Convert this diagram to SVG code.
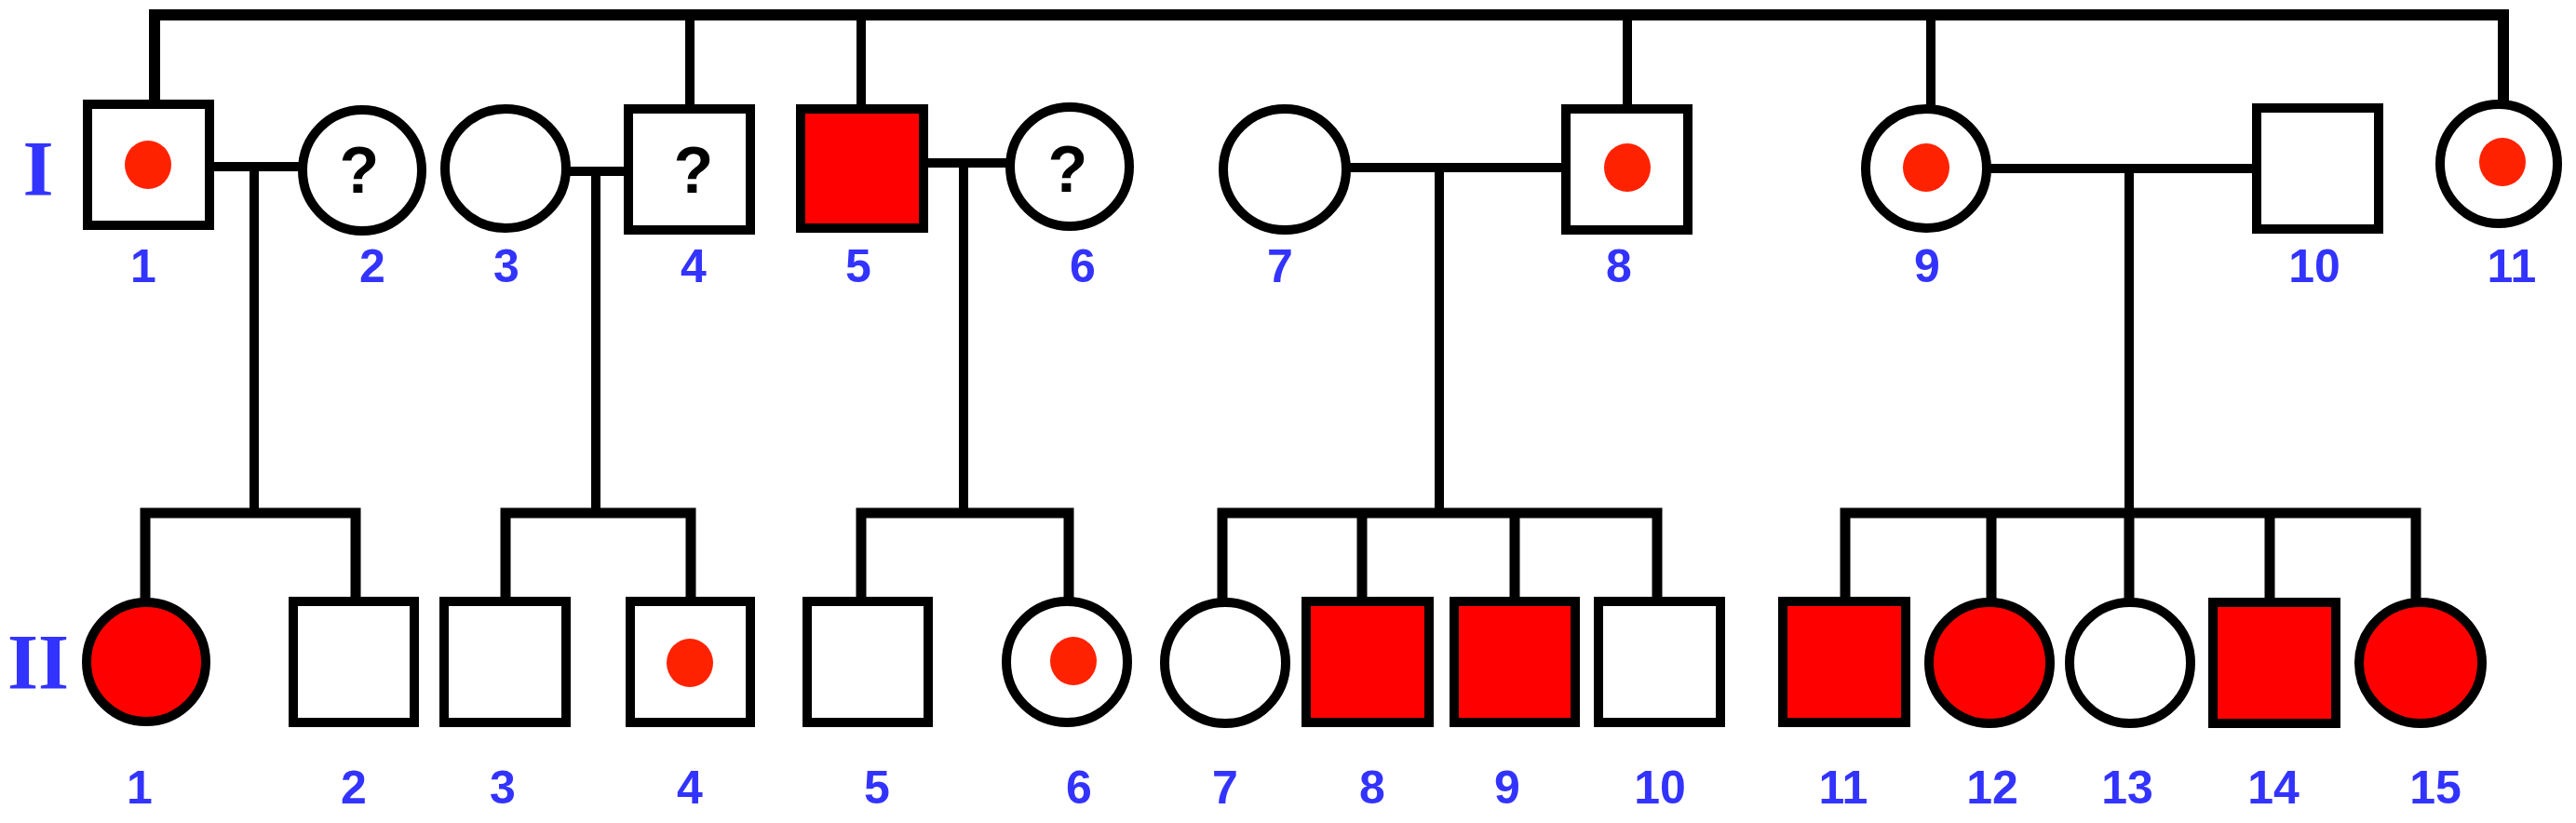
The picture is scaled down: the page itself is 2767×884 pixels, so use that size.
<svg xmlns="http://www.w3.org/2000/svg" width="2767" height="884" viewBox="0 0 2767 884">
<style>
.ln{fill:none;stroke:#000;stroke-width:10;stroke-linecap:butt;stroke-linejoin:miter}
.sib{stroke-width:11}
.m{fill:#fff;stroke:#000;stroke-width:10}
.a{fill:#ff0000;stroke:#000;stroke-width:10}
.dot{fill:#ff2200;stroke:none}
.q{font-family:"Liberation Sans",Arial,sans-serif;font-weight:bold;font-size:70px;fill:#000;text-anchor:middle}
.lb{font-family:"Liberation Sans",Arial,sans-serif;font-weight:bold;font-size:50px;fill:#3333ff;text-anchor:middle}
.gen{font-family:"Liberation Serif","Times New Roman",serif;font-weight:bold;font-size:85px;fill:#3333ff;text-anchor:middle}
</style>
<rect width="2767" height="884" fill="#fff"/>
<g id="connectors">
<path class="ln" d="M166,112 V16 H2689 V112" style="stroke-width:12"/>
<path class="ln" d="M741,16 V117 M925,16 V115 M1748,16 V117 M2074,16 V117"/>
<path class="ln" d="M225,179 H325 M608,184 H675 M991,175 H1085 M1446,180 H1682 M2134,181 H2424"/>
<path class="ln" d="M273,179 V551 M640,184 V551 M1035,175 V551 M1546,180 V551 M2287,181 V551"/>
<path class="ln sib" d="M156,646 V551 H382 V646 M543,646 V551 H742 V646 M925,646 V551 H1148 V646 M1313,646 V551 H1780 V646 M1463,551 V646 M1627,551 V646 M1982,646 V551 H2595 V646 M2139,551 V646 M2287,551 V646 M2438,551 V646"/>
</g>
<text class="gen" x="41" y="210">I</text>
<text class="gen" x="41" y="740">II</text>
<g id="I-1"><rect class="m" x="94" y="112" width="131" height="130"/><ellipse class="dot" cx="159" cy="177" rx="25" ry="26"/><text class="lb" x="154" y="303">1</text></g>
<g id="I-2"><ellipse class="m" cx="389" cy="183" rx="64" ry="65"/><text class="q" x="386" y="207">?</text><text class="lb" x="400" y="303">2</text></g>
<g id="I-3"><ellipse class="m" cx="543" cy="181" rx="65" ry="64"/><text class="lb" x="544" y="303">3</text></g>
<g id="I-4"><rect class="m" x="675" y="117" width="131" height="130"/><text class="q" x="745" y="207">?</text><text class="lb" x="745" y="303">4</text></g>
<g id="I-5"><rect class="a" x="860" y="117" width="132" height="128"/><text class="lb" x="922" y="303">5</text></g>
<g id="I-6"><ellipse class="m" cx="1149" cy="179" rx="64" ry="64"/><text class="q" x="1147" y="206">?</text><text class="lb" x="1163" y="303">6</text></g>
<g id="I-7"><ellipse class="m" cx="1380" cy="182" rx="66" ry="65"/><text class="lb" x="1375" y="303">7</text></g>
<g id="I-8"><rect class="m" x="1682" y="117" width="131" height="130"/><ellipse class="dot" cx="1748" cy="180" rx="25" ry="26"/><text class="lb" x="1739" y="303">8</text></g>
<g id="I-9"><ellipse class="m" cx="2069" cy="181" rx="65" ry="64"/><ellipse class="dot" cx="2069" cy="180" rx="25" ry="26"/><text class="lb" x="2070" y="303">9</text></g>
<g id="I-10"><rect class="m" x="2424" y="116" width="131" height="130"/><text class="lb" x="2486" y="303">10</text></g>
<g id="I-11"><ellipse class="m" cx="2684" cy="176" rx="63" ry="64"/><ellipse class="dot" cx="2688" cy="174" rx="25" ry="26"/><text class="lb" x="2698" y="303">11</text></g>
<g id="II-1"><ellipse class="a" cx="157" cy="711" rx="64" ry="64"/><text class="lb" x="150" y="863">1</text></g>
<g id="II-2"><rect class="m" x="315" y="646" width="130" height="130"/><text class="lb" x="380" y="863">2</text></g>
<g id="II-3"><rect class="m" x="477" y="646" width="131" height="130"/><text class="lb" x="540" y="863">3</text></g>
<g id="II-4"><rect class="m" x="677" y="646" width="129" height="130"/><ellipse class="dot" cx="741" cy="712" rx="25" ry="26"/><text class="lb" x="741" y="863">4</text></g>
<g id="II-5"><rect class="m" x="867" y="646" width="130" height="130"/><text class="lb" x="942" y="863">5</text></g>
<g id="II-6"><ellipse class="m" cx="1146" cy="711" rx="65" ry="65"/><ellipse class="dot" cx="1153" cy="710" rx="25" ry="26"/><text class="lb" x="1159" y="863">6</text></g>
<g id="II-7"><ellipse class="m" cx="1316" cy="712" rx="65" ry="65"/><text class="lb" x="1316" y="863">7</text></g>
<g id="II-8"><rect class="a" x="1403" y="646" width="132" height="130"/><text class="lb" x="1474" y="863">8</text></g>
<g id="II-9"><rect class="a" x="1562" y="646" width="130" height="130"/><text class="lb" x="1619" y="863">9</text></g>
<g id="II-10"><rect class="m" x="1717" y="646" width="131" height="130"/><text class="lb" x="1783" y="863">10</text></g>
<g id="II-11"><rect class="a" x="1915" y="646" width="132" height="130"/><text class="lb" x="1980" y="863">11</text></g>
<g id="II-12"><ellipse class="a" cx="2137" cy="712" rx="65" ry="65"/><text class="lb" x="2140" y="863">12</text></g>
<g id="II-13"><ellipse class="m" cx="2288" cy="712" rx="65" ry="65"/><text class="lb" x="2285" y="863">13</text></g>
<g id="II-14"><rect class="a" x="2377" y="647" width="132" height="130"/><text class="lb" x="2442" y="863">14</text></g>
<g id="II-15"><ellipse class="a" cx="2600" cy="712" rx="66" ry="65"/><text class="lb" x="2616" y="863">15</text></g>
</svg>
